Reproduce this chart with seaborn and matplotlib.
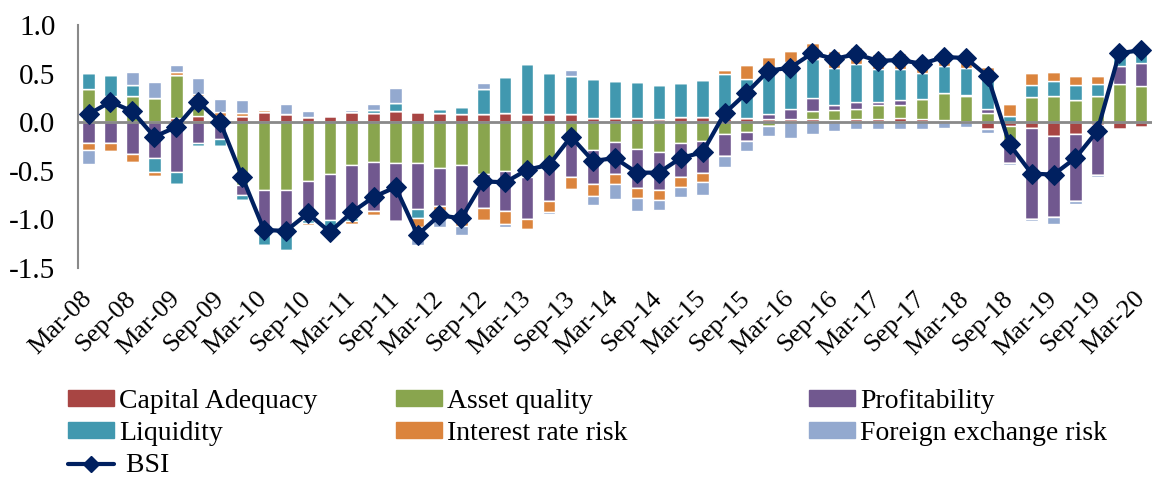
import numpy as np
import pandas as pd
import seaborn as sns
import matplotlib
matplotlib.use("Agg")
import matplotlib.pyplot as plt
from matplotlib.patches import Patch
from matplotlib.lines import Line2D

# quarters Mar-08 .. Mar-20
years = ["08", "09", "10", "11", "12", "13", "14", "15", "16", "17", "18", "19", "20"]
months = ["Mar", "Jun", "Sep", "Dec"]
quarters = [m + "-" + y for y in years for m in months][:49]

capital_adequacy = [0.01, 0.00, 0.00, 0.00, 0.04, 0.06, 0.02, 0.06, 0.10, 0.08,
                    0.05, 0.06, 0.10, 0.09, 0.11, 0.10, 0.09, 0.08, 0.08, 0.09,
                    0.08, 0.08, 0.08, 0.04, 0.04, 0.04, 0.03, 0.05, 0.05, 0.04,
                    0.04, 0.03, 0.03, 0.03, 0.02, 0.03, 0.03, 0.04, 0.03, 0.02,
                    0.00, -0.07, -0.04, -0.06, -0.14, -0.12, -0.03, -0.07, -0.05]
asset_quality = [0.33, 0.27, 0.27, 0.25, 0.45, 0.21, 0.04, -0.65, -0.70, -0.70,
                 -0.61, -0.53, -0.44, -0.41, -0.42, -0.42, -0.47, -0.44, -0.53, -0.50,
                 -0.56, -0.44, -0.22, -0.29, -0.20, -0.28, -0.31, -0.21, -0.19, -0.12,
                 -0.10, -0.04, 0.00, 0.08, 0.10, 0.11, 0.15, 0.14, 0.21, 0.28,
                 0.27, 0.09, -0.18, 0.26, 0.27, 0.23, 0.27, 0.39, 0.37]
profitability = [-0.21, -0.22, -0.33, -0.37, -0.51, -0.21, -0.17, -0.10, -0.46, -0.43,
                 -0.40, -0.48, -0.55, -0.51, -0.60, -0.47, -0.39, -0.58, -0.35, -0.41,
                 -0.44, -0.37, -0.35, -0.35, -0.33, -0.40, -0.39, -0.36, -0.33, -0.23,
                 -0.09, 0.05, 0.11, 0.14, 0.06, 0.07, 0.03, 0.05, 0.00, 0.00,
                 0.01, 0.05, -0.20, -0.94, -0.84, -0.69, -0.51, 0.19, 0.24]
liquidity = [0.17, 0.21, 0.11, -0.14, -0.13, -0.04, -0.08, -0.05, -0.10, -0.19,
             -0.03, -0.11, -0.03, 0.03, 0.09, -0.10, 0.05, 0.08, 0.26, 0.37,
             0.52, 0.43, 0.39, 0.40, 0.38, 0.37, 0.35, 0.35, 0.38, 0.46,
             0.40, 0.46, 0.48, 0.40, 0.38, 0.39, 0.34, 0.32, 0.27, 0.28,
             0.28, 0.36, 0.06, 0.12, 0.15, 0.15, 0.12, 0.14, 0.11]
interest_rate = [-0.08, -0.08, -0.08, -0.04, 0.03, 0.02, 0.04, 0.03, 0.02, -0.01,
                 -0.02, -0.04, -0.03, -0.04, 0.00, -0.09, -0.06, -0.05, -0.13, -0.14,
                 -0.10, -0.12, -0.12, -0.12, -0.11, -0.10, -0.10, -0.10, -0.10, 0.04,
                 0.15, 0.13, 0.11, 0.16, 0.17, 0.17, 0.15, 0.16, 0.15, 0.14,
                 0.14, 0.07, 0.13, 0.13, 0.10, 0.09, 0.08, 0.04, 0.07]
fx_risk = [-0.14, 0.02, 0.14, 0.16, 0.07, 0.16, 0.14, 0.14, 0.02, 0.11,
           0.06, -0.02, 0.02, 0.07, 0.15, -0.19, -0.16, -0.09, 0.06, -0.03,
           0.00, -0.02, 0.07, -0.09, -0.15, -0.14, -0.10, -0.10, -0.13, -0.11,
           -0.11, -0.10, -0.16, -0.12, -0.09, -0.07, -0.07, -0.07, -0.07, -0.06,
           -0.05, -0.04, -0.02, -0.02, -0.07, -0.03, -0.02, 0.00, 0.00]
bsi = [0.08, 0.21, 0.11, -0.15, -0.05, 0.21, 0.00, -0.56, -1.11, -1.12,
       -0.94, -1.13, -0.93, -0.77, -0.67, -1.16, -0.96, -0.99, -0.61, -0.62,
       -0.49, -0.44, -0.15, -0.40, -0.37, -0.52, -0.52, -0.37, -0.31, 0.09,
       0.30, 0.53, 0.56, 0.71, 0.65, 0.70, 0.63, 0.64, 0.60, 0.67,
       0.66, 0.47, -0.23, -0.53, -0.54, -0.37, -0.09, 0.71, 0.74]

series = pd.DataFrame({
    "Capital Adequacy": capital_adequacy,
    "Asset quality": asset_quality,
    "Profitability": profitability,
    "Liquidity": liquidity,
    "Interest rate risk": interest_rate,
    "Foreign exchange risk": fx_risk,
}, index=quarters)
colors = ["#A84543", "#89A54E", "#71588F", "#4198AF", "#DB843D", "#93A9CF"]

sns.set_theme(style="white")
plt.rcParams["font.family"] = ["Liberation Serif", "DejaVu Serif"]
plt.rcParams["text.color"] = "black"
plt.rcParams["xtick.color"] = "black"
plt.rcParams["ytick.color"] = "black"

fig = plt.figure(figsize=(11.58, 4.8), dpi=100)
ax = fig.add_axes([0.067, 0.442, 0.928, 0.506])

x = np.arange(len(quarters))
pos_bottom = np.zeros(len(x))
neg_bottom = np.zeros(len(x))
for col, c in zip(series.columns, colors):
    v = series[col].values
    pos = np.clip(v, 0, None)
    neg = np.clip(v, None, 0)
    ax.bar(x, pos, 0.57, bottom=pos_bottom, color=c, zorder=2)
    ax.bar(x, neg, 0.57, bottom=neg_bottom, color=c, zorder=2)
    pos_bottom += pos
    neg_bottom += neg

ax.axhline(0, color="#898989", lw=2, zorder=3)
sns.lineplot(x=x, y=bsi, ax=ax, color="#002060", lw=3, marker="D",
             markersize=10, markeredgecolor="#002060", zorder=4)

ax.set_xlim(-0.5, len(x) - 0.5)
ax.set_ylim(-1.5, 1.0)
ax.set_yticks([-1.5, -1.0, -0.5, 0.0, 0.5, 1.0])
ax.set_yticklabels(["-1.5", "-1.0", "-0.5", "0.0", "0.5", "1.0"], fontsize=21)
ax.set_xticks(x[::2])
ax.set_xticklabels(quarters[::2], rotation=45, ha="right", va="center",
                   rotation_mode="anchor", fontsize=19)
ax.tick_params(axis="y", length=0, pad=16)
ax.tick_params(axis="x", length=0, pad=20)
for s in ["top", "right", "bottom"]:
    ax.spines[s].set_visible(False)
ax.spines["left"].set_color("#898989")
ax.spines["left"].set_linewidth(1.5)

handles = [Patch(color=c, label=n) for n, c in zip(series.columns, colors)]
bsi_handle = Line2D([], [], color="#002060", lw=3, marker="D", markersize=8, label=" BSI")
legend_cols = [
    ([handles[0], handles[3], bsi_handle], 68),
    ([handles[1], handles[4]], 396),
    ([handles[2], handles[5]], 809),
]
for hs, px in legend_cols:
    leg = fig.legend(handles=hs, loc="upper left", bbox_to_anchor=(px / 1158, 1 - 389 / 480),
                     frameon=False, fontsize=20, handlelength=1.65, handleheight=0.5,
                     handletextpad=0.2, labelspacing=0.26, borderpad=0, borderaxespad=0)

fig.savefig("out.png", dpi=100)
